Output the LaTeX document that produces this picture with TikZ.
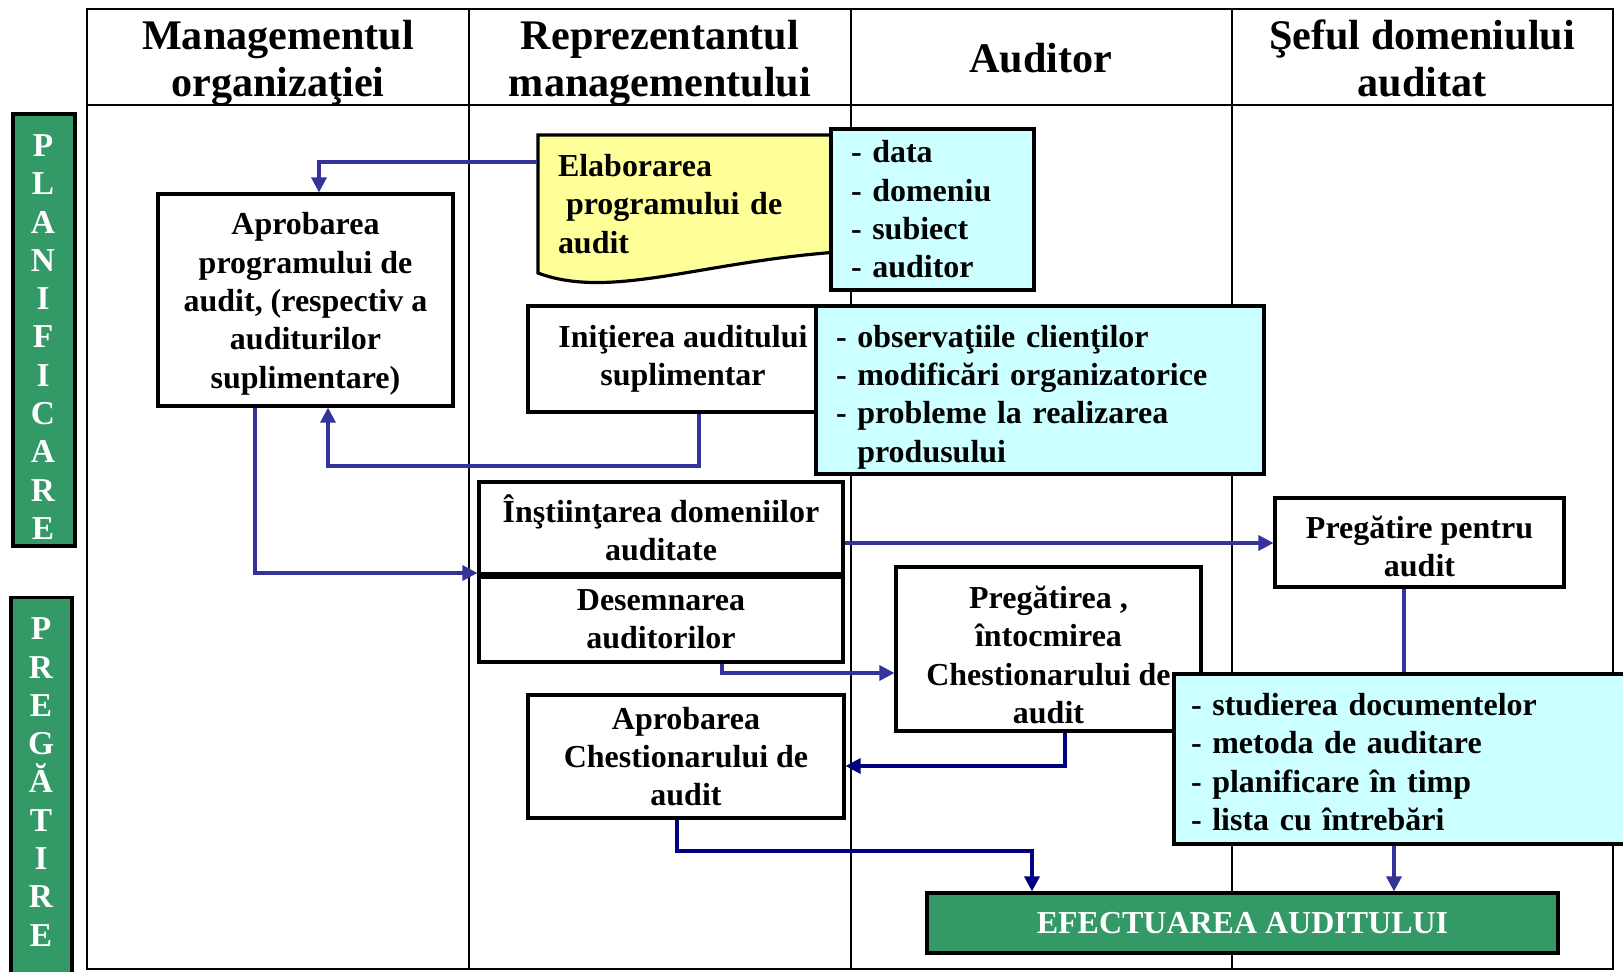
\documentclass[tikz,border=0pt]{standalone}
\usepackage{fontspec}
\setmainfont{Liberation Serif}
\usetikzlibrary{arrows.meta}
\definecolor{seagrn}{RGB}{51,153,102}
\definecolor{lblue}{RGB}{204,255,255}
\definecolor{lyell}{RGB}{255,255,153}
\definecolor{arblue}{RGB}{51,51,153}
\definecolor{arnavy}{RGB}{0,0,128}

\begin{document}
\begin{tikzpicture}[x=0.1mm,y=-0.1mm,
	txt/.style={font=\fontsize{9.1}{10.9}\selectfont\bfseries},
	head/.style={font=\fontsize{12}{13.4}\selectfont\bfseries,align=center},
	box/.style={txt,draw,line width=0.9pt,fill=white,align=center,inner sep=0pt},
	lst/.style={txt,draw,line width=1.1pt,fill=lblue,align=left,inner ysep=0pt},
	band/.style={draw,line width=0.9pt,fill=seagrn},
	letters/.style={font=\fontsize{9.5}{10.9}\selectfont\bfseries,text=white,align=center},
	push/.style={execute at begin node={\rule{0pt}{#1}}},
	arr/.style={draw=arblue,line width=0.95pt,-{Triangle[length=1.5mm,width=1.5mm]}}]
\useasboundingbox (0,0) rectangle (1623,971);
% table
\draw[line width=0.8pt] (87,9) rectangle (1613,969);
\draw[line width=0.8pt] (87,105) -- (1613,105);
\foreach \cx in {469,851,1232}
	\draw[line width=0.8pt] (\cx,9) -- (\cx,969);
\node[head] (h1) at (278,63) {Managementul\\organizaţiei};
\node[head] (h2) at (660,63) {Reprezentantul\\managementului};
\node[head] (h3) at (1041,58) {Auditor};
\node[head] (h4) at (1422,58) {Şeful domeniului\\auditat};
% phases
\node[band, minimum width=6.2mm, minimum height=43.2mm] (13) at (44,330) {};
\node[letters] (13t) at (43,337) {P\\L\\A\\N\\I\\F\\I\\C\\A\\R\\E};
\node[band, minimum width=6.1mm, minimum height=38.5mm] (14) at (41.5,790) {};
\node[letters] (14t) at (41,782) {P\\R\\E\\G\\Ă\\T\\I\\R\\E};
% planificare
\node[box, minimum width=29.5mm, minimum height=21.2mm] (1) at (305.5,300)
	{\rule{0pt}{8.5pt}Aprobarea\\programului de\\audit, (respectiv a\\auditurilor\\suplimentare)};
\draw[line width=0.9pt, fill=lyell] (538,135) -- (838,135) -- (838,252)
	.. controls (700,262) and (610,300) .. (538,273) -- cycle;
\node[txt, align=left, text width=26mm, inner xsep=2mm, minimum height=13.8mm] (2) at (688,204)
	{Elaborarea\\\hspace*{0.8mm}programului de\\audit};
\node[lst, text width=16.3mm, inner xsep=2mm, minimum height=16.1mm] (3) at (932.5,209.5)
	{- data\\- domeniu\\- subiect\\- auditor};
\node[box, minimum width=31mm, minimum height=10.6mm] (4) at (683,359)
	{Iniţierea auditului\\suplimentar};
\node[lst, push=10.3pt, text width=40.8mm, inner xsep=2mm, minimum height=16.8mm] (5) at (1040,390)
	{- observaţiile clienţilor\\- modificări organizatorice\\- probleme la realizarea\\\phantom{- }produsului};
% pregatire
\node[box, minimum width=36.4mm, minimum height=9.2mm] (6) at (661,528)
	{Înştiinţarea domeniilor\\auditate};
\node[box, minimum width=36.4mm, minimum height=8.5mm] (7) at (661,619.5)
	{Desemnarea\\auditorilor};
\node[box, minimum width=28.9mm, minimum height=8.9mm] (8) at (1419.5,542.5)
	{\rule{0pt}{8.5pt}Pregătire pentru\\audit};
\node[box, minimum width=30.5mm, minimum height=16.4mm] (9) at (1048.5,649)
	{\rule{0pt}{9.7pt}Pregătirea ,\\întocmirea\\Chestionarului de\\audit};
\node[lst, push=8pt, text width=41.8mm, inner xsep=1.7mm, minimum height=17mm] (10) at (1400,759)
	{- studierea documentelor\\- metoda de auditare\\- planificare în timp\\- lista cu întrebări};
\node[box, minimum width=31.6mm, minimum height=12.3mm] (11) at (686,756.5)
	{Aprobarea\\Chestionarului de\\audit};
\node[box, fill=seagrn, text=white, minimum width=63.1mm, minimum height=6mm] (12) at (1242.5,923)
	{EFECTUAREA AUDITULUI};
% connectors
\coordinate (c1) at (319,162);
\coordinate (c2) at (699,466);
\coordinate (c3) at (328,466);
\coordinate (c4) at (255,573);
\coordinate (c5) at (1000,543);
\coordinate (c6) at (1404,600);
\coordinate (c7) at (722,673);
\coordinate (c8) at (1065,766);
\coordinate (c9) at (677,851);
\coordinate (c10) at (1032,851);
\coordinate (c11) at (1394,870);
\draw[arr] (c1 -| 2.west) -- (c1) -- (c1 |- 1.north);
\draw[arr] (c2 |- 4.south) -- (c2) -- (c3) -- (c3 |- 1.south);
\draw[arr] (c4 |- 1.south) -- (c4) -- (c4 -| 6.west);
\draw[arr] (c5 -| 6.east) -- (c5 -| 8.west);
\draw[draw=arblue, line width=0.95pt] (c6 |- 8.south) -- (c6 |- 10.north);
\draw[arr] (c7 |- 7.south) -- (c7) -- (c7 -| 9.west);
\draw[arr, draw=arnavy] (c8 |- 9.south) -- (c8) -- (c8 -| 11.east);
\draw[arr, draw=arnavy] (c9 |- 11.south) -- (c9) -- (c10) -- (c10 |- 12.north);
\draw[arr] (c11 |- 10.south) -- (c11 |- 12.north);
\end{tikzpicture}
\end{document}
